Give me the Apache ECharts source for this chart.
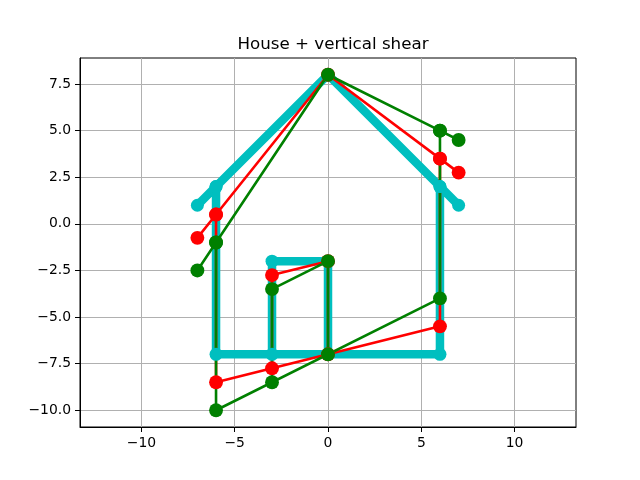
<!DOCTYPE html>
<html>
<head>
<meta charset="utf-8">
<script src="https://cdn.jsdelivr.net/npm/echarts@6/dist/echarts.min.js"></script>
<style>html,body{margin:0;padding:0;background:#fff}#c{width:640px;height:480px}</style>
</head>
<body>
<div id="c"></div>
<script>
// Outline path (roof + walls + floor) and door path, x coordinates shared
const outlineX = [-7, -6, 0, 6, 7, 6, 6, -6, -6];
const doorX = [-3, -3, 0, 0];

// Original house (cyan)
const houseOutlineY = [1, 2, 8, 2, 1, 2, -7, -7, 2];
const houseDoorY = [-7, -2, -2, -7];

// Red sheared version
const redOutlineY = [-0.75, 0.5, 8, 3.5, 2.75, 3.5, -5.5, -8.5, 0.5];
const redDoorY = [-7.75, -2.75, -2, -7];

// Green sheared version
const greenOutlineY = [-2.5, -1, 8, 5, 4.5, 5, -4, -10, -1];
const greenDoorY = [-8.5, -3.5, -2, -7];

const xTicks = [-10, -5, 0, 5, 10];
const yTicks = [-10, -7.5, -5, -2.5, 0, 2.5, 5, 7.5];
const titleText = 'House + vertical shear';

function pts(xs, ys) { return xs.map((x, i) => [x, ys[i]]); }
const minus = s => String(s).replace('-', '\u2212');

const FONT = 'DejaVu Sans';
function mk(xs, ys, color, lw, ms) {
  return {
    type: 'line', data: pts(xs, ys), symbol: 'circle', symbolSize: ms,
    showSymbol: true, clip: false, animation: false, silent: true,
    lineStyle: { color: color, width: lw, cap: 'round', join: 'round' },
    itemStyle: { color: color, borderWidth: 0 }
  };
}

const chart = echarts.init(document.getElementById('c'), null, { renderer: 'canvas' });
chart.setOption({
  animation: false,
  backgroundColor: '#fff',
  title: {
    text: titleText, left: 328, top: 31, textAlign: 'center',
    textStyle: { fontFamily: FONT, fontSize: 16.7, fontWeight: 'normal', color: '#000' }
  },
  grid: { left: 80, right: 64, top: 58, bottom: 53, show: true, borderColor: '#000', borderWidth: 1, backgroundColor: 'transparent' },
  xAxis: {
    type: 'value', min: -13.29, max: 13.29,
    axisLine: { show: true, onZero: false, lineStyle: { color: '#000', width: 1 } },
    axisTick: { show: true, inside: false, length: 5, customValues: xTicks, lineStyle: { color: '#000', width: 1 } },
    axisLabel: { customValues: xTicks, margin: 9, formatter: v => minus(v), fontFamily: FONT, fontSize: 13.9, color: '#000' },
    splitLine: { show: true, lineStyle: { color: '#b0b0b0', width: 1 } }
  },
  yAxis: {
    type: 'value', min: -10.9, max: 8.9,
    axisLine: { show: true, onZero: false, lineStyle: { color: '#000', width: 1 } },
    axisTick: { show: true, inside: false, length: 5, customValues: yTicks, lineStyle: { color: '#000', width: 1 } },
    axisLabel: { customValues: yTicks, margin: 9, formatter: v => minus(Number(v).toFixed(1)), fontFamily: FONT, fontSize: 13.9, color: '#000' },
    splitLine: { show: true, lineStyle: { color: '#b0b0b0', width: 1 } }
  },
  series: [
    mk(outlineX, houseOutlineY, '#00bfbf', 8.5, 13),
    mk(doorX, houseDoorY, '#00bfbf', 8.5, 13),
    mk(outlineX, redOutlineY, '#ff0000', 2.6, 13.9),
    mk(doorX, redDoorY, '#ff0000', 2.6, 13.9),
    mk(outlineX, greenOutlineY, '#008000', 2.6, 13.9),
    mk(doorX, greenDoorY, '#008000', 2.6, 13.9)
  ]
});
</script>
</body>
</html>
